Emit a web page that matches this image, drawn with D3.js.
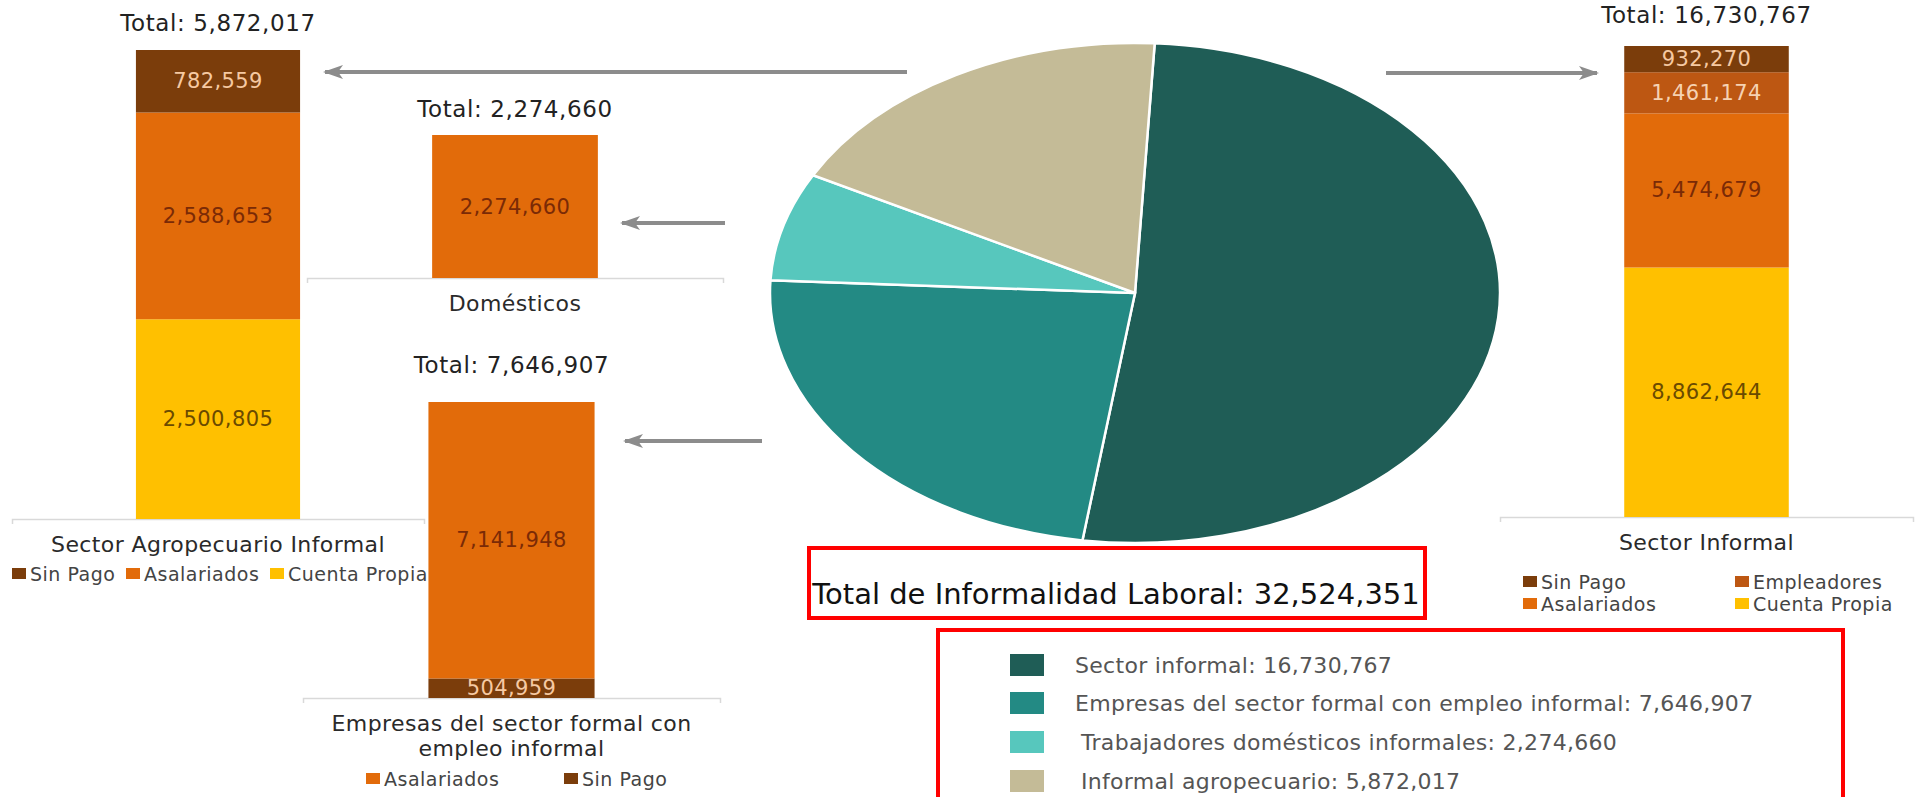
<!DOCTYPE html>
<html>
<head>
<meta charset="utf-8">
<script src="https://cdn.jsdelivr.net/npm/d3@7"></script>
<style>
  body { margin: 0; background: #fff; }
  svg { display: block; font-family: "DejaVu Sans", sans-serif; }
</style>
</head>
<body>
<svg id="chart"></svg>
<script>
// pie: composition of informal employment
const pieLabels = [
  "Sector informal",
  "Empresas del sector formal con empleo informal",
  "Trabajadores domésticos informales",
  "Informal agropecuario"
];
const pieValues = [16730767, 7646907, 2274660, 5872017];
const pieColors = ["#1f5d56", "#238a84", "#57c7bd", "#c4bb97"];

// stacked bars, keys listed bottom -> top
const agroKeys = ["Cuenta Propia", "Asalariados", "Sin Pago"];
const agroValues = [2500805, 2588653, 782559];
const domKeys = ["Asalariados"];
const domValues = [2274660];
const empKeys = ["Sin Pago", "Asalariados"];
const empValues = [504959, 7141948];
const infKeys = ["Cuenta Propia", "Asalariados", "Empleadores", "Sin Pago"];
const infValues = [8862644, 5474679, 1461174, 932270];

const segColor = {
  "Sin Pago": "#7b3d0b",
  "Asalariados": "#e26b0a",
  "Empleadores": "#bd5712",
  "Cuenta Propia": "#ffc000"
};
const segText = {
  "Sin Pago": "#f6c9a2",
  "Asalariados": "#7a2a06",
  "Empleadores": "#f6d2b2",
  "Cuenta Propia": "#6a4a00"
};

const fmt = d3.format(",");
const width = 1927, height = 797;

const svg = d3.select("#chart")
  .attr("width", width)
  .attr("height", height);

svg.append("rect").attr("width", width).attr("height", height).attr("fill", "#fff");

const defs = svg.append("defs");
defs.append("marker")
  .attr("id", "arrowhead")
  .attr("markerUnits", "userSpaceOnUse")
  .attr("viewBox", "0 -8 20 16")
  .attr("markerWidth", 20)
  .attr("markerHeight", 16)
  .attr("refX", 18)
  .attr("refY", 0)
  .attr("orient", "auto")
  .append("path")
  .attr("d", "M0,-7L20,0L0,7L5,0Z")
  .attr("fill", "#8c8c8c");

const drawBar = (cfg) => {
  const g = svg.append("g");
  const total = d3.sum(cfg.values);

  const x = d3.scaleBand()
    .domain([cfg.name])
    .range([cfg.left, cfg.right])
    .paddingInner(0)
    .paddingOuter(0.755);

  const y = d3.scaleLinear()
    .domain([0, total])
    .range([cfg.base, cfg.top]);

  const cx = x(cfg.name) + x.bandwidth() / 2;
  const ends = d3.cumsum(cfg.values);
  const segs = cfg.keys.map((k, i) => ({
    key: k,
    value: cfg.values[i],
    y0: ends[i] - cfg.values[i],
    y1: ends[i]
  }));

  g.append("g")
    .attr("transform", `translate(0,${cfg.base})`)
    .call(d3.axisBottom(x).tickSize(0).tickSizeOuter(5).tickFormat(""))
    .call(a => a.select(".domain").attr("stroke", "#d9d9d9").attr("stroke-width", 1.5));

  g.selectAll("rect.seg")
    .data(segs)
    .join("rect")
    .attr("class", "seg")
    .attr("x", x(cfg.name))
    .attr("width", x.bandwidth())
    .attr("y", d => y(d.y1))
    .attr("height", d => y(d.y0) - y(d.y1))
    .attr("fill", d => segColor[d.key]);

  g.selectAll("text.val")
    .data(segs)
    .join("text")
    .attr("class", "val")
    .attr("x", cx)
    .attr("y", d => (y(d.y0) + y(d.y1)) / 2)
    .attr("text-anchor", "middle")
    .attr("dominant-baseline", "central")
    .attr("font-size", 21)
    .attr("letter-spacing", 0.4)
    .attr("fill", d => segText[d.key])
    .text(d => fmt(d.value));

  g.append("text")
    .attr("x", cx)
    .attr("y", cfg.titleY)
    .attr("text-anchor", "middle")
    .attr("dominant-baseline", "central")
    .attr("font-size", 23)
    .attr("letter-spacing", 0.6)
    .attr("fill", "#222")
    .text(`Total: ${fmt(total)}`);

  const lab = g.append("text")
    .attr("text-anchor", "middle")
    .attr("font-size", 22)
    .attr("letter-spacing", 0.4)
    .attr("fill", "#2a2a2a");
  cfg.label.forEach((line, i) => {
    lab.append("tspan")
      .attr("x", cx)
      .attr("y", cfg.base + 25 + i * 25)
      .attr("dominant-baseline", "central")
      .text(line);
  });

  if (cfg.legend) {
    const items = g.selectAll("g.leg")
      .data(cfg.legend.keys)
      .join("g")
      .attr("class", "leg")
      .attr("transform", (d, i) => `translate(${cfg.legend.pos[i][0]},${cfg.legend.pos[i][1]})`);
    items.append("rect")
      .attr("x", 0)
      .attr("y", -6)
      .attr("width", 14)
      .attr("height", 11)
      .attr("fill", d => segColor[d]);
    items.append("text")
      .attr("x", 18)
      .attr("y", 0)
      .attr("dominant-baseline", "central")
      .attr("font-size", 19)
      .attr("letter-spacing", 0.5)
      .attr("fill", "#444")
      .text(d => d);
  }
  return g;
};

drawBar({
  name: "Sector Agropecuario Informal",
  keys: agroKeys, values: agroValues,
  left: 12, right: 424, top: 50, base: 519, titleY: 23,
  label: ["Sector Agropecuario Informal"],
  legend: { keys: ["Sin Pago", "Asalariados", "Cuenta Propia"],
            pos: [[12, 574], [126, 574], [270, 574]] }
});

drawBar({
  name: "Domésticos",
  keys: domKeys, values: domValues,
  left: 307, right: 723, top: 135, base: 278, titleY: 109,
  label: ["Domésticos"]
});

drawBar({
  name: "Empresas",
  keys: empKeys, values: empValues,
  left: 303, right: 720, top: 402, base: 698, titleY: 365,
  label: ["Empresas del sector formal con", "empleo informal"],
  legend: { keys: ["Asalariados", "Sin Pago"], pos: [[366, 779], [564, 779]] }
});

drawBar({
  name: "Sector Informal",
  keys: infKeys, values: infValues,
  left: 1500, right: 1913, top: 46, base: 517, titleY: 15,
  label: ["Sector Informal"],
  legend: { keys: ["Sin Pago", "Empleadores", "Asalariados", "Cuenta Propia"],
            pos: [[1523, 582], [1735, 582], [1523, 604], [1735, 604]] }
});

// pie (drawn as a stretched ellipse)
const ry = 250, rx = 365;
const a0 = 0.054;
const pie = d3.pie().sort(null).startAngle(a0).endAngle(a0 + 2 * Math.PI);
const arc = d3.arc().innerRadius(0).outerRadius(ry);

svg.append("g")
  .attr("transform", `translate(1135,293) scale(${rx / ry},1)`)
  .selectAll("path")
  .data(pie(pieValues))
  .join("path")
  .attr("d", arc)
  .attr("fill", (d, i) => pieColors[i])
  .attr("stroke", "#fff")
  .attr("stroke-width", 2.5)
  .attr("vector-effect", "non-scaling-stroke");

// arrows
const arrows = [
  [907, 72, 325, 72],
  [725, 223, 622, 223],
  [762, 441, 625, 441],
  [1386, 73, 1597, 73]
];
svg.selectAll("line.arrow")
  .data(arrows)
  .join("line")
  .attr("class", "arrow")
  .attr("x1", d => d[0]).attr("y1", d => d[1])
  .attr("x2", d => d[2]).attr("y2", d => d[3])
  .attr("stroke", "#8c8c8c")
  .attr("stroke-width", 4)
  .attr("marker-end", "url(#arrowhead)");

// total box
const pieTotal = d3.sum(pieValues);
svg.append("rect")
  .attr("x", 809).attr("y", 548)
  .attr("width", 616).attr("height", 70)
  .attr("fill", "none")
  .attr("stroke", "#ff0000")
  .attr("stroke-width", 4);
svg.append("text")
  .attr("x", 1116)
  .attr("y", 594)
  .attr("text-anchor", "middle")
  .attr("dominant-baseline", "central")
  .attr("font-size", 29)
  .attr("fill", "#111")
  .text(`Total de Informalidad Laboral: ${fmt(pieTotal)}`);

// pie legend box
svg.append("rect")
  .attr("x", 938).attr("y", 630)
  .attr("width", 905).attr("height", 200)
  .attr("fill", "none")
  .attr("stroke", "#ff0000")
  .attr("stroke-width", 4);

const rowY = [665, 703, 742, 781];
const textX = [1075, 1075, 1081, 1081];
const pl = svg.selectAll("g.pleg")
  .data(pieLabels)
  .join("g")
  .attr("class", "pleg");
pl.append("rect")
  .attr("x", 1010)
  .attr("y", (d, i) => rowY[i] - 11)
  .attr("width", 34)
  .attr("height", 22)
  .attr("fill", (d, i) => pieColors[i]);
pl.append("text")
  .attr("x", (d, i) => textX[i])
  .attr("y", (d, i) => rowY[i])
  .attr("dominant-baseline", "central")
  .attr("font-size", 22)
  .attr("letter-spacing", 0.3)
  .attr("fill", "#555")
  .text((d, i) => `${d}: ${fmt(pieValues[i])}`);
</script>
</body>
</html>
